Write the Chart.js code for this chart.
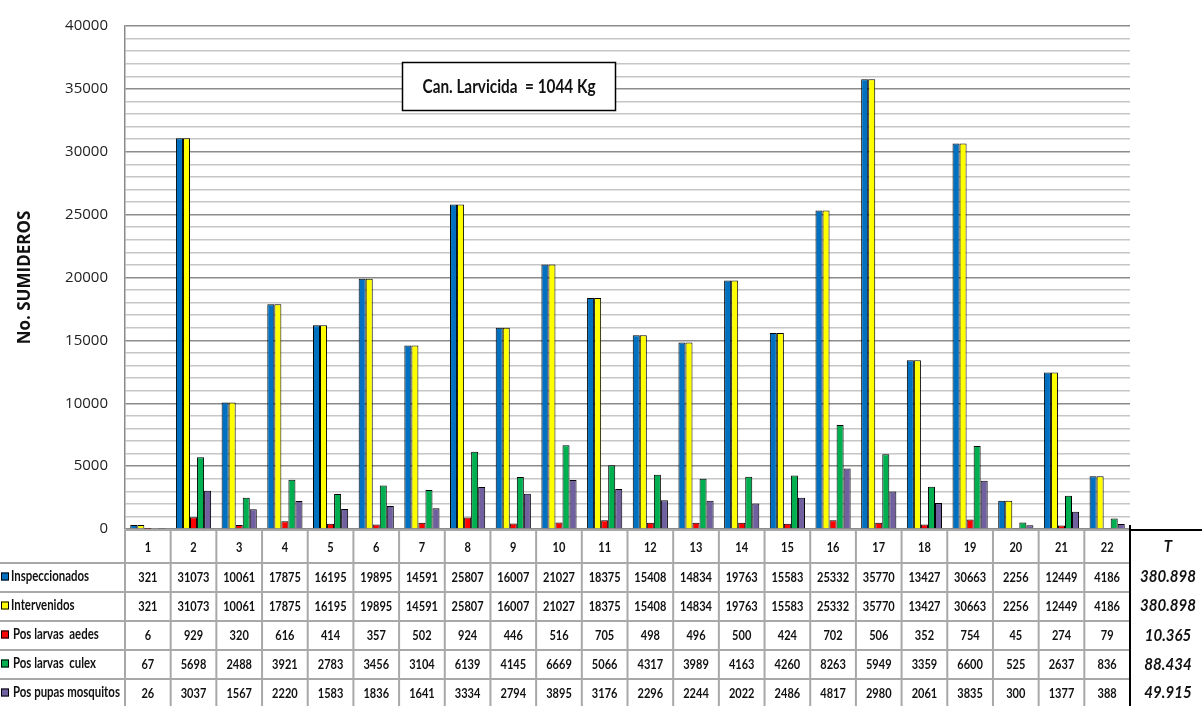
<!DOCTYPE html>
<html>
<head>
<meta charset="utf-8">
<script src="https://cdn.jsdelivr.net/npm/chart.js@4.4.1/dist/chart.umd.min.js"></script>
<style>
  html, body { margin: 0; padding: 0; background: #fff; }
  #wrap { position: relative; width: 1202px; height: 706px; overflow: hidden; }
  canvas { position: absolute; left: 0; top: 0; }
</style>
</head>
<body>
<div id="wrap">
  <canvas id="c" width="1202" height="706"></canvas>
</div>
<script>
const categories = ["1","2","3","4","5","6","7","8","9","10","11","12","13","14","15","16","17","18","19","20","21","22"];
const inspeccionados   = [321,31073,10061,17875,16195,19895,14591,25807,16007,21027,18375,15408,14834,19763,15583,25332,35770,13427,30663,2256,12449,4186];
const intervenidos     = [321,31073,10061,17875,16195,19895,14591,25807,16007,21027,18375,15408,14834,19763,15583,25332,35770,13427,30663,2256,12449,4186];
const posLarvasAedes   = [6,929,320,616,414,357,502,924,446,516,705,498,496,500,424,702,506,352,754,45,274,79];
const posLarvasCulex   = [67,5698,2488,3921,2783,3456,3104,6139,4145,6669,5066,4317,3989,4163,4260,8263,5949,3359,6600,525,2637,836];
const posPupasMosquitos= [26,3037,1567,2220,1583,1836,1641,3334,2794,3895,3176,2296,2244,2022,2486,4817,2980,2061,3835,300,1377,388];
const seriesNames = ["Inspeccionados", "Intervenidos", "Pos larvas  aedes", "Pos larvas  culex", "Pos pupas mosquitos"];
const seriesColors = ["#0070C0", "#FFFF00", "#FF0000", "#00B050", "#7060A0"];
const totalsHeader = "T";
const totals = ["380.898", "380.898", "10.365", "88.434", "49.915"];
const noteText = "Can. Larvicida  = 1044 Kg";
const yTicks = { min: 0, max: 40000, step: 1000, labelEvery: 5000 };

const seriesData = [inspeccionados, intervenidos, posLarvasAedes, posLarvasCulex, posPupasMosquitos];

function drawText(ctx, s, x, y, font, sx, align) {
  ctx.save();
  ctx.font = font;
  ctx.translate(x, y);
  ctx.scale(sx, 1);
  ctx.textAlign = align;
  ctx.textBaseline = 'middle';
  ctx.fillStyle = '#111';
  ctx.fillText(s, 0, 0);
  ctx.restore();
}
function fitScale(ctx, font, sample, target) {
  ctx.save(); ctx.font = font;
  const w = ctx.measureText(sample).width;
  ctx.restore();
  return w > 0 ? target / w : 1;
}

const tablePlugin = {
  id: 'dataTable',
  afterDraw(chart) {
    const ctx = chart.ctx;
    const xs = chart.scales.x;
    const area = chart.chartArea;
    const n = categories.length;
    const w = (area.right - area.left) / n;
    const rowTops = [530, 563, 592, 621, 650, 679, 708];
    ctx.save();

    // note box
    ctx.fillStyle = '#fff';
    ctx.fillRect(402, 62, 214, 49);
    ctx.strokeStyle = '#000';
    ctx.lineWidth = 1.5;
    ctx.strokeRect(402.5, 62.5, 213, 48);
    const noteFont = 'bold 19px Lato';
    drawText(ctx, noteText, 509, 87, noteFont, fitScale(ctx, noteFont, noteText, 173), 'center');

    // table grid
    ctx.strokeStyle = '#a8a8a8';
    ctx.lineWidth = 2;
    rowTops.forEach((y, r) => {
      const x0 = r === 0 ? area.left : 0;
      ctx.beginPath(); ctx.moveTo(x0, y); ctx.lineTo(area.right, y); ctx.stroke();
    });
    for (let i = 0; i < n; i++) {
      const xl = xs.getPixelForValue(i) - w / 2;
      ctx.beginPath(); ctx.moveTo(xl, rowTops[0]); ctx.lineTo(xl, 706); ctx.stroke();
    }
    // totals column border
    ctx.strokeStyle = '#000';
    ctx.beginPath(); ctx.moveTo(area.right, 525); ctx.lineTo(area.right, 706); ctx.stroke();
    ctx.beginPath(); ctx.moveTo(area.right, rowTops[0]); ctx.lineTo(1202, rowTops[0]); ctx.stroke();

    // header and values
    const numFont = 'bold 14px Lato';
    const numScale = fitScale(ctx, numFont, '31073', 32);
    categories.forEach((c, i) => {
      drawText(ctx, c, xs.getPixelForValue(i), (rowTops[0] + rowTops[1]) / 2 + 1, numFont, numScale, 'center');
    });
    const labFont = 'bold 14.5px Lato';
    const labScale = fitScale(ctx, labFont, 'Inspeccionados', 78);
    seriesData.forEach((d, r) => {
      const cy = (rowTops[r + 1] + rowTops[r + 2]) / 2 - 1;
      // legend swatch
      ctx.fillStyle = seriesColors[r];
      ctx.fillRect(1, cy - 4, 8, 8);
      ctx.strokeStyle = '#000';
      ctx.lineWidth = 1;
      ctx.strokeRect(1.5, cy - 3.5, 7, 7);
      drawText(ctx, seriesNames[r], r < 2 ? 11 : 13, cy, labFont, labScale, 'left');
      d.forEach((v, i) => {
        drawText(ctx, String(v), xs.getPixelForValue(i), cy + 1, numFont, numScale, 'center');
      });
    });
    // totals
    const totFont = 'italic bold 17px Lato';
    const totScale = fitScale(ctx, totFont, '380.898', 56);
    drawText(ctx, totalsHeader, 1168, 547, totFont, totScale, 'center');
    const totY = [577, 606, 636, 665, 693];
    totals.forEach((t, r) => drawText(ctx, t, 1168, totY[r], totFont, totScale, 'center'));
    ctx.restore();
  }
};

const chart = new Chart(document.getElementById('c'), {
  type: 'bar',
  data: {
    labels: categories,
    datasets: seriesData.map((d, i) => ({
      label: seriesNames[i],
      data: d,
      backgroundColor: seriesColors[i],
      borderColor: '#000',
      borderWidth: 1,
      categoryPercentage: 0.77,
      barPercentage: 1.0
    }))
  },
  plugins: [tablePlugin],
  options: {
    responsive: false,
    devicePixelRatio: 1,
    animation: false,
    layout: { padding: { top: 16, bottom: 177, right: 72, left: 0 } },
    plugins: { legend: { display: false }, tooltip: { enabled: false }, title: { display: false } },
    scales: {
      x: { display: false, grid: { display: false, drawOnChartArea: false }, border: { display: false } },
      y: {
        min: yTicks.min, max: yTicks.max,
        afterFit: (s) => { s.width = 125; },
        border: { display: true, color: '#8a8a8a', width: 1.5 },
        grid: {
          drawTicks: false,
          lineWidth: 1.5,
          color: (c) => (c.tick && c.tick.value % yTicks.labelEvery === 0) ? '#8c8c8c' : '#c6c6c6'
        },
        ticks: {
          stepSize: yTicks.step,
          autoSkip: false,
          padding: 17,
          color: '#222',
          font: { family: 'Open Sans', size: 15 },
          callback: (v) => (v % yTicks.labelEvery === 0 ? String(v) : '')
        },
        title: {
          display: true,
          text: 'No. SUMIDEROS',
          color: '#111',
          padding: { top: 15, bottom: 0 },
          font: { family: 'Open Sans', size: 17, weight: 'bold' }
        }
      }
    }
  }
});
</script>
</body>
</html>
